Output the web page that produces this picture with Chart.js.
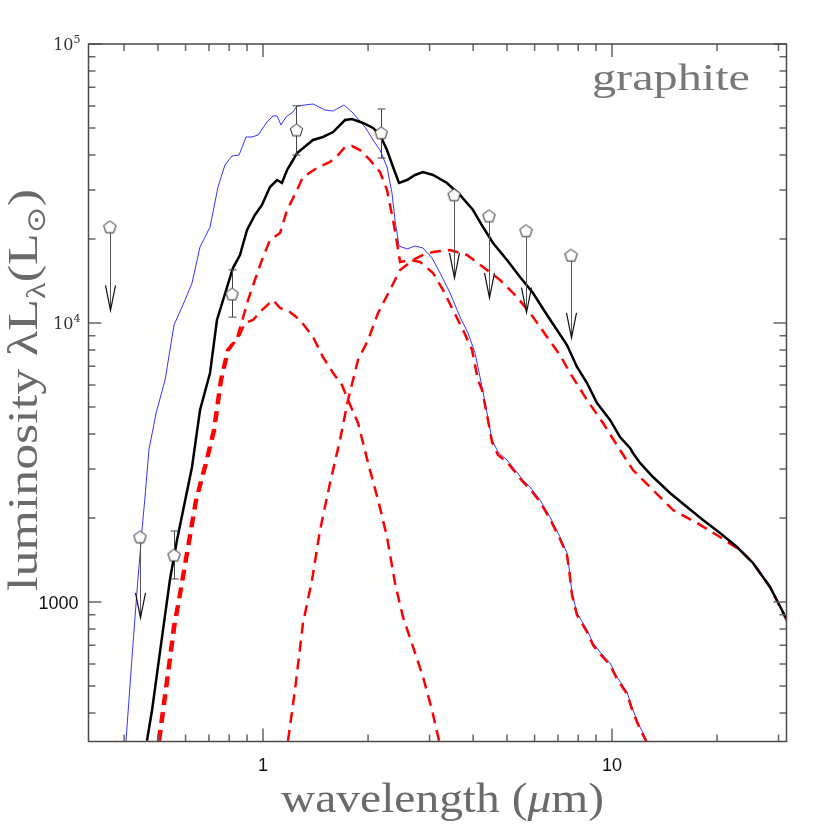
<!DOCTYPE html>
<html>
<head>
<meta charset="utf-8">
<script src="https://cdn.jsdelivr.net/npm/chart.js@4.4.0/dist/chart.umd.min.js"></script>
<style>
  html, body { margin: 0; padding: 0; background: #fff; }
  #wrap { width: 830px; height: 830px; position: relative; }
</style>
</head>
<body>
<div id="wrap"><canvas id="sed"></canvas></div>
<script>
// wavelength in micron, luminosity (lambda L_lambda) in L_sun

// thin blue line
const waveBlue = [0.405, 0.427, 0.438, 0.450, 0.459, 0.471, 0.494, 0.524, 0.556, 0.598, 0.626, 0.660, 0.705, 0.743, 0.778, 0.815, 0.854, 0.894, 0.930, 0.968,
  1.027, 1.068, 1.097, 1.126, 1.164, 1.219, 1.252, 1.391, 1.505, 1.588, 1.707, 1.811, 1.960, 2.094, 2.164, 2.266, 2.342, 2.389, 2.453, 2.586,
  2.726, 2.874, 3.050, 3.216, 3.435, 3.668, 3.867, 4.050, 4.242, 4.384, 4.531, 4.714, 5.002, 5.274, 5.559, 5.821, 6.220, 6.642, 7.096, 7.430,
  7.530, 7.680, 7.937, 8.480, 8.822, 9.240, 9.869, 10.33, 11.04, 11.48, 12.03, 12.60];
const lumBlue = [318, 794, 1199, 1811, 2378, 3506, 4758, 6246, 9835, 12090, 13910, 18730, 22080, 30720, 36840, 39680, 40010, 46420, 46420, 47190,
  52540, 55210, 55210, 51250, 54760, 57060, 59950, 60950, 58000, 57530, 60450, 56590, 50410, 44180, 41690, 36240, 29240, 23400, 18880, 18420,
  18880, 18570, 17100, 15110, 12810, 10510, 9210, 7810, 5897, 4758, 3807, 3448, 3228, 2972, 2737, 2584, 2321, 2017, 1710, 1498,
  1335, 1077, 913, 794, 713, 662, 605, 539, 476, 410, 356, 318];

// total (black)
const waveTotal = [0.465, 0.481, 0.500, 0.517, 0.541, 0.567, 0.626, 0.660, 0.705, 0.738, 0.789, 0.820, 0.859, 0.900, 0.948, 0.993,
  1.047, 1.097, 1.133, 1.172, 1.252, 1.391, 1.485, 1.588, 1.718, 1.799, 1.934, 2.067, 2.164, 2.266, 2.358, 2.453, 2.586, 2.726, 2.874,
  3.070, 3.367, 3.668, 3.997, 4.269, 4.560, 5.002, 5.450, 5.937, 6.513, 6.957, 7.430, 7.937, 8.480, 9.057, 9.869, 10.54, 11.26, 11.48,
  12.03, 13.11, 14.66, 16.40, 18.23, 20.39, 22.81, 25.35, 28.36, 31.52];
const lumTotal = [318, 410, 585, 794, 1199, 1668, 3047, 4878, 6619, 10250, 13460, 15740, 17530, 21540, 24390, 26480,
  30720, 32540, 31750, 35350, 40670, 45290, 46420, 48360, 53400, 53850, 52100, 50000, 47190, 41690, 36240, 31750, 32540, 33920, 34770,
  33920, 31750, 28760, 25410, 22080, 19350, 16820, 14620, 12810, 10680, 9438, 8338, 6956, 6095, 5167, 4491, 3903, 3565, 3421,
  3150, 2805, 2459, 2190, 1967, 1767, 1574, 1380, 1132, 876];

// hot component (red dashed)
const waveHot = [0.500, 0.517, 0.534, 0.552, 0.571, 0.606, 0.639, 0.682, 0.719, 0.753, 0.789, 0.842, 0.876, 0.906, 0.948, 0.993,
  1.047, 1.119, 1.172, 1.252, 1.302, 1.428, 1.556, 1.640, 1.718, 1.799, 1.897, 2.026, 2.164, 2.266, 2.358, 2.421, 2.470, 2.638, 2.818,
  3.070, 3.280, 3.503, 3.742, 3.971, 4.130, 4.242, 4.384, 4.531, 4.714, 5.002, 5.274, 5.559, 5.821, 6.220, 6.642, 7.096, 7.430, 7.530,
  7.680, 7.937, 8.480, 8.822, 9.240, 9.869, 10.33, 11.04, 11.48, 12.03, 12.52];
const lumHot = [318, 434, 585, 814, 1017, 1574, 2321, 3150, 4136, 6246, 8003, 8835, 10420, 12090, 14260, 16820,
  19840, 21020, 25410, 29970, 33370, 35940, 37770, 40010, 42730, 43090, 41690, 38390, 34770, 29970, 23400, 19350, 16540, 16820, 16540,
  15110, 13130, 11130, 9438, 8003, 6246, 5753, 4680, 3745, 3365, 3176, 2924, 2692, 2541, 2283, 1984, 1682, 1474, 1313,
  1059, 898, 781, 701, 651, 595, 530, 468, 403, 350, 318];

// ~1 micron component (red dashed)
const waveNear = [0.507, 0.524, 0.541, 0.560, 0.578, 0.614, 0.647, 0.691, 0.729, 0.763, 0.799, 0.854, 0.888, 0.936, 0.993, 1.068,
  1.119, 1.195, 1.276, 1.391, 1.485, 1.588, 1.684, 1.752, 1.872, 2.000, 2.136, 2.266, 2.389, 2.518, 2.691, 2.874, 3.050, 3.194];
const lumNear = [318, 434, 585, 814, 1017, 1574, 2321, 3150, 4136, 6246, 8003, 8983, 10000, 10250, 11130, 12090,
  11320, 10950, 10250, 8909, 7552, 6619, 5995, 5297, 4382, 3150, 2321, 1710, 1170, 884, 690, 539, 410, 318];

// graphite dust component (red dashed)
const waveDust = [1.179, 1.235, 1.302, 1.382, 1.457, 1.556, 1.662, 1.752, 1.872, 2.000, 2.136, 2.311, 2.470, 2.691, 2.874, 3.070,
  3.435, 3.841, 4.269, 4.776, 5.344, 5.937, 6.513, 7.096, 7.581, 8.480, 9.424, 10.54, 11.48, 13.11, 14.96, 17.52, 20.39, 23.27,
  25.35, 28.36, 31.72];
const lumDust = [318, 484, 841, 1199, 1811, 2670, 3807, 5297, 7369, 8690, 10860, 13130, 15490, 16820, 17530, 17970,
  18270, 17530, 15880, 14260, 12400, 10510, 8909, 7680, 6619, 5297, 4382, 3506, 2972, 2520, 2136, 1920, 1710, 1536,
  1380, 1132, 855];

// photometry: error bars where known, arrows for upper limits
const obsWave = [0.364, 0.444, 0.556, 0.815, 1.247, 2.18, 3.53, 4.44, 5.67, 7.63];
const obsLum = [22100, 1710, 1473, 12700, 49200, 48000, 28800, 24200, 21400, 17500];
const obsErrLo = [null, null, 1209, 10500, 40000, 39000, null, null, null, null];
const obsErrHi = [null, null, 1797, 15500, 60000, 58500, null, null, null, null];
const obsLimitTo = [11100, 877, null, null, null, null, 14500, 12300, 10900, 8840];

// axes
const xMin = 0.3162, xMax = 31.62;
const yMin = 316.2, yMax = 100000;
const xMajor = [1, 10];
const xMinor = [0.4, 0.5, 0.6, 0.7, 0.8, 0.9, 2, 3, 4, 5, 6, 7, 8, 9, 20, 30];
const yMajor = [1000, 10000, 100000];
const yMinor = [400, 500, 600, 700, 800, 900, 2000, 3000, 4000, 5000, 6000, 7000, 8000, 9000,
  20000, 30000, 40000, 50000, 60000, 70000, 80000, 90000];
const xTickLabels = ['1', '10'];
const yTickLabels = ['1000', '10^4', '10^5'];
const panelLabel = 'graphite';

function pts(xs, ys) {
  return xs.map((v, i) => ({ x: v, y: ys[i] }));
}

function pentagon(r) {
  const s = Math.ceil(r * 2 + 4);
  const c = document.createElement('canvas');
  c.width = s; c.height = s;
  const g = c.getContext('2d');
  g.beginPath();
  for (let k = 0; k < 5; k++) {
    const a = -Math.PI / 2 + k * 2 * Math.PI / 5;
    const px = s / 2 + r * Math.cos(a), py = s / 2 + 0.5 + r * Math.sin(a);
    if (k) g.lineTo(px, py); else g.moveTo(px, py);
  }
  g.closePath();
  g.fillStyle = '#fff';
  g.fill();
  g.strokeStyle = '#222';
  g.lineWidth = 1;
  g.stroke();
  return c;
}

// serif text stretched to the width it has in the figure
function wideText(ctx, parts, x0, y0, width) {
  let w = 0;
  parts.forEach(p => { ctx.font = p[1]; w += ctx.measureText(p[0]).width; });
  const sx = width / w;
  ctx.save();
  ctx.translate(x0, y0);
  ctx.scale(sx, 1);
  let cx = 0;
  parts.forEach(p => { ctx.font = p[1]; ctx.fillText(p[0], cx, p[2] || 0); cx += ctx.measureText(p[0]).width; });
  ctx.restore();
}

const dashed = { borderColor: '#ff0000', borderWidth: 2.5, borderDash: [11, 7], pointRadius: 0, tension: 0, fill: false };

const decor = {
  id: 'decor',
  // error bars and arrows go under the markers
  afterDatasetDraw(chart, args) {
    if (args.index !== 1) return;
    const { ctx, scales: { x, y } } = chart;
    ctx.save();
    obsWave.forEach((w, i) => {
      const px = Math.round(x.getPixelForValue(w)) + 0.5;
      const py = y.getPixelForValue(obsLum[i]);
      if (obsErrLo[i] != null) {
        const lo = y.getPixelForValue(obsErrLo[i]), hi = y.getPixelForValue(obsErrHi[i]);
        ctx.strokeStyle = '#444';
        ctx.lineWidth = 1;
        ctx.beginPath();
        ctx.moveTo(px, lo); ctx.lineTo(px, hi);
        ctx.moveTo(px - 4, lo); ctx.lineTo(px + 4, lo);
        ctx.moveTo(px - 4, hi); ctx.lineTo(px + 4, hi);
        ctx.stroke();
      }
      if (obsLimitTo[i] != null) {
        const tip = y.getPixelForValue(obsLimitTo[i]);
        ctx.strokeStyle = '#555';
        ctx.lineWidth = 1;
        ctx.beginPath();
        ctx.moveTo(px, py + 6); ctx.lineTo(px, tip);
        ctx.stroke();
        ctx.strokeStyle = '#111';
        ctx.lineWidth = 1.2;
        ctx.beginPath();
        ctx.moveTo(px - 5, tip - 25); ctx.lineTo(px, tip); ctx.lineTo(px + 5, tip - 25);
        ctx.stroke();
      }
    });
    ctx.restore();
  },
  afterDraw(chart) {
    const { ctx, chartArea: a, scales: { x, y } } = chart;
    ctx.save();
    // ticks pointing inward on all four sides
    ctx.strokeStyle = '#666';
    ctx.lineWidth = 1.5;
    ctx.beginPath();
    const xt = (vals, len) => vals.forEach(v => {
      const p = x.getPixelForValue(v);
      ctx.moveTo(p, a.bottom); ctx.lineTo(p, a.bottom - len);
      ctx.moveTo(p, a.top); ctx.lineTo(p, a.top + len);
    });
    const yt = (vals, len) => vals.forEach(v => {
      const p = y.getPixelForValue(v);
      ctx.moveTo(a.left, p); ctx.lineTo(a.left + len, p);
      ctx.moveTo(a.right, p); ctx.lineTo(a.right - len, p);
    });
    xt(xMinor, 7); xt(xMajor, 13);
    yt(yMinor, 7); yt(yMajor, 13);
    ctx.stroke();
    // frame
    ctx.strokeStyle = '#4a4a4a';
    ctx.lineWidth = 1.5;
    ctx.strokeRect(a.left, a.top, a.right - a.left, a.bottom - a.top);

    // tick labels
    ctx.fillStyle = '#111';
    ctx.font = '18px "Liberation Sans", Arial, sans-serif';
    ctx.textAlign = 'center';
    ctx.textBaseline = 'alphabetic';
    xMajor.forEach((v, i) => ctx.fillText(xTickLabels[i], x.getPixelForValue(v), a.bottom + 29));
    yMajor.forEach((v, i) => {
      const p = y.getPixelForValue(v);
      const lab = yTickLabels[i];
      ctx.textAlign = 'right';
      if (lab.indexOf('^') > 0) {
        const [base, ex] = lab.split('^');
        ctx.fillStyle = '#333';
        ctx.font = '11px "DejaVu Serif", serif';
        const ew = ctx.measureText(ex).width;
        ctx.fillText(ex, a.left - 8, p - 1);
        ctx.font = '16px "DejaVu Serif", serif';
        ctx.fillText(base, a.left - 8 - ew, p + 6);
      } else {
        ctx.fillStyle = '#111';
        ctx.font = '18px "Liberation Sans", Arial, sans-serif';
        ctx.fillText(lab, a.left - 10, p + 7);
      }
    });

    // axis titles and panel label, thin wide serif like the original
    ctx.fillStyle = '#6a6a6a';
    ctx.textAlign = 'left';
    const big = '42px "Liberation Serif", "Times New Roman", serif';
    const bigIt = 'italic 42px "Liberation Serif", "Times New Roman", serif';
    const small = '28px "Liberation Serif", "Times New Roman", serif';
    const sym = '26px "DejaVu Sans", sans-serif';
    wideText(ctx, [['wavelength (', big], ['\u03bc', bigIt], ['m)', big]], 281, 812, 323);

    ctx.save();
    ctx.translate(37, 591);
    ctx.rotate(-Math.PI / 2);
    wideText(ctx, [['luminosity ', big], ['\u03bbL', big], ['\u03bb', small, 8], ['(L', big], ['\u2299', sym, 8], [')', big]], 0, 0, 402);
    ctx.restore();

    ctx.fillStyle = '#777';
    wideText(ctx, [[panelLabel, '38px "Liberation Serif", "Times New Roman", serif']], 592, 90, 158);
    ctx.restore();
  }
};

new Chart(document.getElementById('sed').getContext('2d'), {
  type: 'line',
  data: {
    datasets: [
      {
        label: 'photometry',
        data: pts(obsWave, obsLum),
        showLine: false,
        pointStyle: pentagon(6.5),
        pointRadius: 7
      },
      { label: 'total', data: pts(waveTotal, lumTotal), borderColor: '#000', borderWidth: 2.5, pointRadius: 0, tension: 0, fill: false },
      { label: 'dust', data: pts(waveDust, lumDust), ...dashed },
      { label: 'near-IR', data: pts(waveNear, lumNear), ...dashed },
      { label: 'hot', data: pts(waveHot, lumHot), ...dashed },
      { label: 'blue', data: pts(waveBlue, lumBlue), borderColor: '#3535ff', borderWidth: 1, pointRadius: 0, tension: 0, fill: false }
    ]
  },
  options: {
    responsive: true,
    maintainAspectRatio: false,
    animation: false,
    events: [],
    layout: { padding: { left: 88.5, right: 43.5, top: 44, bottom: 88.5 } },
    plugins: { legend: { display: false }, tooltip: { enabled: false } },
    scales: {
      x: { type: 'logarithmic', bounds: 'data', min: xMin, max: xMax, display: false },
      y: { type: 'logarithmic', bounds: 'data', min: yMin, max: yMax, display: false }
    }
  },
  plugins: [decor]
});
</script>
</body>
</html>
